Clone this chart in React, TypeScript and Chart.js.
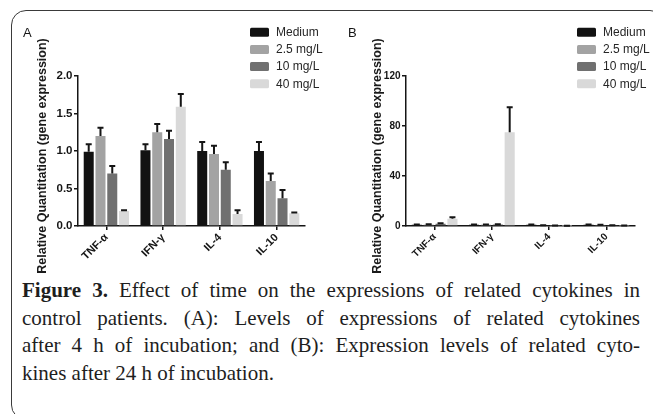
import React, { useEffect, useRef } from "react";
import { Chart, registerables } from "chart.js";

Chart.register(...registerables);

// ---------- data ----------
const categories = ["TNF-α", "IFN-γ", "IL-4", "IL-10"];
const seriesLabels = ["Medium", "2.5 mg/L", "10 mg/L", "40 mg/L"];
const seriesColors = ["#121212", "#a3a3a3", "#707070", "#d9d9d9"];

// Panel A: 4 h of incubation
const aMedium = [0.99, 1.01, 1.0, 1.0];
const a25 = [1.2, 1.25, 0.96, 0.6];
const a10 = [0.7, 1.16, 0.75, 0.37];
const a40 = [0.2, 1.59, 0.16, 0.17];
const aMediumErr = [0.1, 0.08, 0.12, 0.12];
const a25Err = [0.11, 0.11, 0.11, 0.1];
const a10Err = [0.1, 0.11, 0.1, 0.11];
const a40Err = [0.01, 0.17, 0.05, 0.01];
const aTicks = [0, 0.5, 1.0, 1.5, 2.0];

// Panel B: 24 h of incubation
const bMedium = [1.0, 1.0, 1.0, 1.0];
const b25 = [1.1, 1.1, 0.6, 0.9];
const b10 = [1.8, 1.2, 0.3, 0.5];
const b40 = [5.8, 75, 0.2, 0.3];
const bMediumErr = [0.3, 0.2, 0.3, 0.2];
const b25Err = [0.3, 0.2, 0.1, 0.2];
const b10Err = [0.5, 0.3, 0.1, 0.1];
const b40Err = [1.2, 20, 0.1, 0.1];
const bTicks = [0, 40, 80, 120];

const yTitle = "Relative Quantitation (gene expression)";

const captionLines = [
  "Effect of time on the expressions of related cytokines in",
  "control patients. (A): Levels of expressions of related cytokines",
  "after 4 h of incubation; and (B): Expression levels of related cyto-",
  "kines after 24 h of incubation.",
];

// ---------- plugins ----------
const SANS = "'Liberation Sans', Arial, Helvetica, sans-serif";

const errorBarPlugin = {
  id: "errorBars",
  afterDatasetsDraw(chart: any) {
    const { ctx } = chart;
    const y = chart.scales.y;
    chart.data.datasets.forEach((ds: any, i: number) => {
      const meta = chart.getDatasetMeta(i);
      meta.data.forEach((bar: any, j: number) => {
        const v = ds.data[j];
        const e = ds.errors[j];
        const yTop = y.getPixelForValue(v + e);
        const yBar = y.getPixelForValue(v);
        ctx.save();
        ctx.strokeStyle = "#151515";
        ctx.lineWidth = 2;
        ctx.beginPath();
        ctx.moveTo(bar.x, yBar);
        ctx.lineTo(bar.x, yTop);
        ctx.moveTo(bar.x - 3, yTop);
        ctx.lineTo(bar.x + 3, yTop);
        ctx.stroke();
        ctx.restore();
      });
    });
  },
};

const decorPlugin = {
  id: "decor",
  afterDraw(chart: any, _args: any, opts: any) {
    const { ctx } = chart;
    ctx.save();
    // panel letter
    ctx.fillStyle = "#151515";
    ctx.font = `13px ${SANS}`;
    ctx.textAlign = "left";
    ctx.textBaseline = "middle";
    ctx.fillText(opts.panel, opts.panelX, 33);
    // y axis title
    ctx.save();
    ctx.translate(opts.titleX, opts.titleY);
    ctx.rotate(-Math.PI / 2);
    ctx.fillStyle = "#1a1a1a";
    ctx.font = `bold 12.5px ${SANS}`;
    ctx.textAlign = "center";
    ctx.textBaseline = "middle";
    ctx.fillText(yTitle, 0, 0);
    ctx.restore();
    // legend
    chart.data.datasets.forEach((ds: any, i: number) => {
      const cy = 32.2 + i * 17.2;
      ctx.fillStyle = ds.backgroundColor;
      ctx.beginPath();
      if (ctx.roundRect) ctx.roundRect(opts.legendX, cy - 4.5, 19, 9, 1.5);
      else ctx.rect(opts.legendX, cy - 4.5, 19, 9);
      ctx.fill();
      ctx.fillStyle = "#262626";
      ctx.font = `12px ${SANS}`;
      ctx.textAlign = "left";
      ctx.textBaseline = "middle";
      ctx.fillText(ds.label, opts.legendX + 26, cy + 0.5);
    });
    ctx.restore();
  },
};

// ---------- config ----------
type Panel = {
  values: number[][];
  errors: number[][];
  ticks: number[];
  max: number;
  decimals: number;
  yWidth: number;
  padRight: number;
  tickSize: number;
  labelSize: number;
  decor: any;
};

const panelA: Panel = {
  values: [aMedium, a25, a10, a40],
  errors: [aMediumErr, a25Err, a10Err, a40Err],
  ticks: aTicks,
  max: 2,
  decimals: 1,
  yWidth: 78,
  padRight: 25,
  tickSize: 11.5,
  labelSize: 11,
  decor: { panel: "A", panelX: 23, titleX: 43, titleY: 156, legendX: 250 },
};

const panelB: Panel = {
  values: [bMedium, b25, b10, b40],
  errors: [bMediumErr, b25Err, b10Err, b40Err],
  ticks: bTicks,
  max: 120,
  decimals: 0,
  yWidth: 76,
  padRight: 18,
  tickSize: 10,
  labelSize: 10,
  decor: { panel: "B", panelX: 18, titleX: 48, titleY: 156, legendX: 247 },
};

const CANVAS_H = 285;
const PLOT_BOTTOM = 226;

function makeConfig(p: Panel): any {
  return {
    type: "bar",
    data: {
      labels: categories,
      datasets: seriesLabels.map((label, i) => ({
        label,
        data: p.values[i],
        errors: p.errors[i],
        backgroundColor: seriesColors[i],
        borderWidth: 0,
        categoryPercentage: 0.83,
        barPercentage: 0.85,
      })),
    },
    options: {
      animation: false,
      responsive: true,
      maintainAspectRatio: false,
      layout: { padding: { top: 76, right: p.padRight, left: 0, bottom: 0 } },
      plugins: {
        legend: { display: false },
        tooltip: { enabled: false },
        decor: p.decor,
      },
      scales: {
        x: {
          offset: true,
          grid: {
            display: true,
            drawOnChartArea: false,
            drawTicks: true,
            tickLength: 4,
            offset: false,
            color: "#151515",
            lineWidth: 1.5,
          },
          border: { display: true, color: "#151515", width: 1.5 },
          ticks: {
            minRotation: 45,
            maxRotation: 45,
            padding: 1,
            color: "#151515",
            font: { family: SANS, size: p.labelSize, weight: "bold" },
          },
          afterFit: (s: any) => {
            s.height = CANVAS_H - PLOT_BOTTOM;
          },
        },
        y: {
          min: 0,
          max: p.max,
          afterBuildTicks: (s: any) => {
            s.ticks = p.ticks.map((v) => ({ value: v }));
          },
          grid: {
            display: true,
            drawOnChartArea: false,
            drawTicks: true,
            tickLength: 4,
            color: "#151515",
            lineWidth: 1.5,
          },
          border: { display: true, color: "#151515", width: 1.5 },
          ticks: {
            padding: 1.5,
            color: "#151515",
            font: { family: SANS, size: p.tickSize, weight: "bold" },
            callback: (v: any) => Number(v).toFixed(p.decimals),
          },
          afterFit: (s: any) => {
            s.width = p.yWidth;
          },
        },
      },
    },
    plugins: [errorBarPlugin, decorPlugin],
  };
}

export default function App() {
  const refA = useRef<HTMLCanvasElement>(null);
  const refB = useRef<HTMLCanvasElement>(null);

  useEffect(() => {
    const ca = new Chart(refA.current as HTMLCanvasElement, makeConfig(panelA));
    const cb = new Chart(refB.current as HTMLCanvasElement, makeConfig(panelB));
    return () => {
      ca.destroy();
      cb.destroy();
    };
  }, []);

  const lineStyle = (justify: boolean): React.CSSProperties => ({
    whiteSpace: "nowrap",
    textAlign: justify ? "justify" : "left",
    textAlignLast: justify ? "justify" : "left",
    height: 27.5,
  });

  return (
    <div
      style={{
        position: "absolute",
        left: 0,
        top: 0,
        width: 653,
        height: 414,
        overflow: "hidden",
        background: "#ffffff",
      }}
    >
      <div
        style={{
          position: "absolute",
          left: 11,
          top: 10,
          width: 652,
          height: 408,
          border: "1px solid #3a3a3a",
          borderRadius: 15,
        }}
      />
      <div
        style={{
          position: "absolute",
          left: 22,
          top: 277,
          width: 618,
          fontFamily: "'Liberation Serif', 'Times New Roman', serif",
          fontSize: 21,
          lineHeight: "27.5px",
          color: "#1e1e1e",
        }}
      >
        {captionLines.map((line, i) => (
          <div key={i} style={lineStyle(i < captionLines.length - 1)}>
            {i === 0 ? (
              <>
                <b>Figure 3.</b> {line}
              </>
            ) : (
              line
            )}
          </div>
        ))}
      </div>
      <div style={{ position: "absolute", left: 0, top: 0, width: 330, height: CANVAS_H }}>
        <canvas ref={refA} />
      </div>
      <div style={{ position: "absolute", left: 330, top: 0, width: 323, height: CANVAS_H }}>
        <canvas ref={refB} />
      </div>
    </div>
  );
}
